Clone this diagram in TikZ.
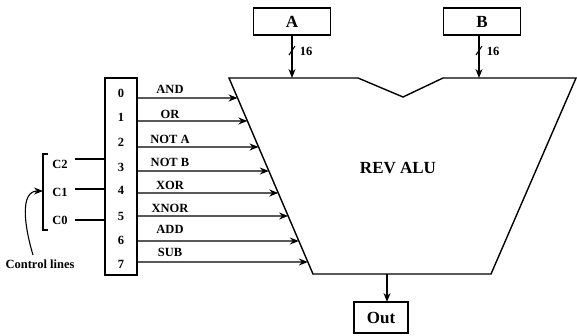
\documentclass[tikz,border=0pt]{standalone}
\usepackage{fontspec}
\setmainfont{Liberation Serif}
\usetikzlibrary{arrows.meta,calc}
\begin{document}
\begin{tikzpicture}[x=1pt,y=-1pt,line width=1.4pt,
  arr/.style={-{Stealth[length=9pt,width=7pt]}},
  box/.style={draw,inner sep=0pt},
  lbl/.style={font=\fontsize{12.5}{14}\selectfont\bfseries,inner sep=0pt},
  big/.style={font=\fontsize{17}{19}\selectfont\bfseries,inner sep=0pt}]
\useasboundingbox (0,0) rectangle (577,336);
% ALU outline
\coordinate (tl) at (229,78);
\coordinate (n1) at (358,78);
\coordinate (nm) at (403,97);
\coordinate (n2) at (443,78);
\coordinate (tr) at (576,78);
\coordinate (br) at (491,274);
\coordinate (bl) at (313,274);
\draw[line join=miter] (tl) -- (n1) -- (nm) -- (n2) -- (tr) -- (br) -- (bl) -- cycle;
\node[big] (alu) at (398,168) {REV ALU};
% inputs
\node[box,minimum width=77pt,minimum height=27pt] (A) at (292,21.5) {};
\node[big] (At) at (292,22) {A};
\node[box,minimum width=77pt,minimum height=27pt] (B) at (482,21.5) {};
\node[big] (Bt) at (482,22) {B};
\coordinate (ain) at (292,78);
\coordinate (bin) at (479,78);
\draw[arr] (292,35) -- (ain);
\draw[arr] (479,35) -- (bin);
\draw[line width=1pt] (289,55) -- (295,46);
\draw[line width=1pt] (476,55) -- (482,46);
\node[lbl] (s1) at (306,51) {16};
\node[lbl] (s2) at (493,51) {16};
% output
\node[box,minimum width=54pt,minimum height=31pt] (out) at (381,317.5) {};
\node[big] (outt) at (381,318) {Out};
\coordinate (aout) at (387,274);
\draw[arr] (aout) -- (387,302);
% decoder
\node[box,minimum width=32pt,minimum height=197pt] (dec) at (121,176.5) {};
\foreach \i/\y in {0/93,1/117,2/142,3/167,4/190,5/216,6/240,7/264}
  \node[lbl] (d\i) at (121,\y) {\i};
% op arrows
\foreach \i/\y/\t/\ly/\op in {0/98/AND/89/AND,1/121/OR/114/OR,2/147/NOTA/139/NOT A,3/171/NOTB/162/NOT B,4/193/XOR/185/XOR,5/216/XNOR/208/XNOR,6/241/ADD/229/ADD,7/262/SUB/252/SUB}{
  \pgfmathsetmacro\tt{(\y-78)/196}
  \coordinate (e\i) at ($(tl)!\tt!(bl)$);
  \coordinate (s\i) at (137,\y);
  \draw[arr] (s\i) -- (e\i);
  \node[lbl] (op\t) at (170,\ly) {\op};
}
% control lines
\foreach \c/\y/\ty in {2/159/164,1/189/192,0/220/220}{
  \node[lbl] (c\c) at (60,\ty) {C\c};
  \draw (75,\y) -- (105,\y);
}
\draw (48,154) -- (43,154) -- (43,230) -- (48,230);
\coordinate (bm) at (43,191);
\draw[arr,line width=1.1pt] (33,255) .. controls (24,225) and (20,191) .. (bm);
\node[lbl] (ctl) at (40,264) {Control lines};
\end{tikzpicture}
\end{document}
